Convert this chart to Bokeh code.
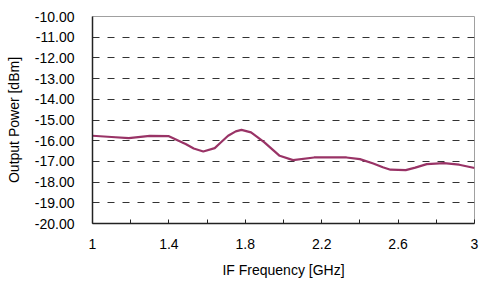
from bokeh.plotting import figure
from bokeh.models import FixedTicker, NumeralTickFormatter, CustomJSTickFormatter, Range1d
from bokeh.embed import file_html
from bokeh.resources import INLINE

# Data
freq_ghz = [1.00, 1.10, 1.19, 1.30, 1.40, 1.49, 1.53, 1.58, 1.64, 1.67, 1.71, 1.75,
            1.78, 1.83, 1.86, 1.90, 1.98, 2.05, 2.16, 2.33, 2.40, 2.47, 2.52, 2.56,
            2.64, 2.69, 2.75, 2.84, 2.92, 3.00]
power_dbm = [-15.76, -15.82, -15.88, -15.77, -15.78, -16.17, -16.38, -16.52, -16.36, -16.10,
             -15.76, -15.55, -15.48, -15.60, -15.80, -16.08, -16.73, -16.94, -16.81, -16.81,
             -16.89, -17.10, -17.28, -17.40, -17.42, -17.30, -17.13, -17.08, -17.16, -17.32]

x_major_ticks = [1.0, 1.4, 1.8, 2.2, 2.6, 3.0]
x_minor_ticks = [1.2, 1.6, 2.0, 2.4, 2.8]
y_ticks = [-20, -19, -18, -17, -16, -15, -14, -13, -12, -11, -10]
y_grid_ticks = [-19, -18, -17, -16, -15, -14, -13, -12, -11]

FONT = "Liberation Sans"
FS = "14px"

p = figure(width=479, height=285, output_backend="svg", toolbar_location=None,
           x_range=Range1d(1, 3), y_range=Range1d(-20, -10),
           min_border_left=92, min_border_right=5, min_border_top=16, min_border_bottom=62)

p.line(freq_ghz, power_dbm, line_color="#993366", line_width=2.2)

p.outline_line_color = "#a0a0a0"
p.outline_line_width = 1
p.background_fill_color = "white"
p.border_fill_color = "white"

# x axis
xa = p.xaxis[0]
xa.ticker = FixedTicker(ticks=x_major_ticks, minor_ticks=x_minor_ticks)
xa.formatter = CustomJSTickFormatter(code="return tick.toString();")
xa.major_tick_in = 4
xa.major_tick_out = 0
xa.minor_tick_in = 4
xa.minor_tick_out = 0
xa.axis_line_color = "#222222"
xa.axis_line_width = 1.5
xa.major_tick_line_color = "#222222"
xa.minor_tick_line_color = "#222222"
xa.major_label_standoff = 15
xa.major_label_text_font = FONT
xa.major_label_text_font_size = FS
xa.major_label_text_color = "#000000"
xa.axis_label = "IF Frequency [GHz]"
xa.axis_label_text_font = FONT
xa.axis_label_text_font_size = FS
xa.axis_label_text_font_style = "normal"
xa.axis_label_text_color = "#000000"
xa.axis_label_standoff = 10

# y axis
ya = p.yaxis[0]
ya.ticker = FixedTicker(ticks=y_ticks)
ya.formatter = NumeralTickFormatter(format="0.00")
ya.major_tick_in = 0
ya.major_tick_out = 0
ya.minor_tick_in = 0
ya.minor_tick_out = 0
ya.axis_line_color = "#222222"
ya.axis_line_width = 1.5
ya.major_label_standoff = 18
ya.major_label_text_font = FONT
ya.major_label_text_font_size = FS
ya.major_label_text_color = "#000000"
ya.axis_label = "Output Power [dBm]"
ya.axis_label_text_font = FONT
ya.axis_label_text_font_size = FS
ya.axis_label_text_font_style = "normal"
ya.axis_label_text_color = "#000000"
ya.axis_label_standoff = 10

# grid
p.xgrid.grid_line_color = None
p.ygrid.ticker = FixedTicker(ticks=y_grid_ticks)
p.ygrid.grid_line_color = "#333333"
p.ygrid.grid_line_width = 1
p.ygrid.grid_line_dash = "7 8"

open("out.html", "w").write(file_html(p, INLINE))
